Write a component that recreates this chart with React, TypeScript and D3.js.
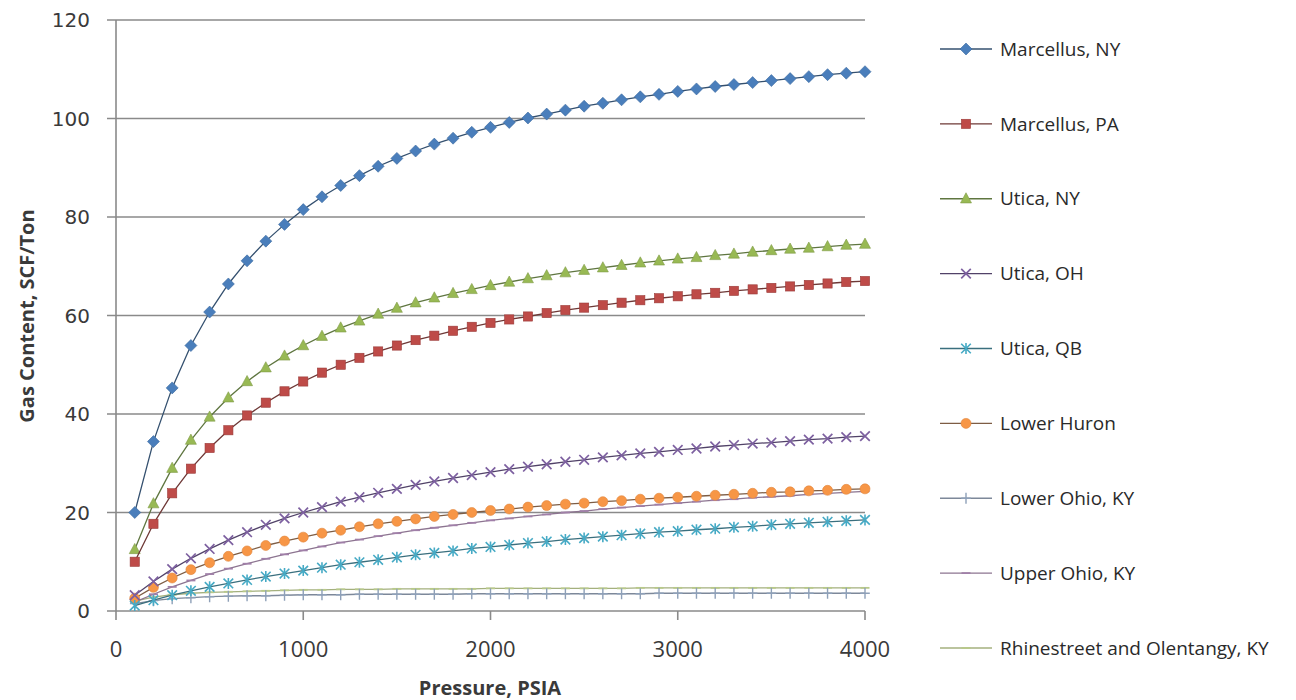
import React from "react";
import * as d3 from "d3";

const pressures = [100,200,300,400,500,600,700,800,900,1000,1100,1200,1300,1400,1500,1600,1700,1800,1900,2000,2100,2200,2300,2400,2500,2600,2700,2800,2900,3000,3100,3200,3300,3400,3500,3600,3700,3800,3900,4000];

const marcellusNY = [20.0,34.4,45.3,53.9,60.7,66.4,71.1,75.1,78.5,81.5,84.1,86.4,88.4,90.3,91.9,93.4,94.8,96.0,97.2,98.2,99.2,100.1,100.9,101.7,102.5,103.1,103.8,104.4,104.9,105.5,106.0,106.5,106.9,107.3,107.7,108.1,108.5,108.9,109.2,109.5];
const marcellusPA = [10.0,17.7,23.9,28.9,33.1,36.7,39.7,42.3,44.6,46.6,48.4,50.0,51.4,52.7,53.9,55.0,55.9,56.9,57.7,58.5,59.2,59.8,60.5,61.1,61.6,62.1,62.6,63.1,63.5,63.9,64.3,64.6,65.0,65.3,65.6,65.9,66.2,66.5,66.8,67.0];
const uticaNY = [12.5,21.8,29.0,34.7,39.4,43.3,46.6,49.4,51.8,53.9,55.8,57.5,58.9,60.3,61.5,62.6,63.6,64.5,65.3,66.1,66.8,67.5,68.1,68.7,69.2,69.7,70.2,70.7,71.1,71.5,71.8,72.2,72.5,72.9,73.2,73.5,73.7,74.0,74.3,74.5];
const uticaOH = [3.2,6.0,8.5,10.7,12.6,14.4,16.0,17.5,18.8,20.0,21.1,22.2,23.1,24.0,24.8,25.6,26.3,27.0,27.6,28.2,28.8,29.3,29.8,30.3,30.7,31.2,31.6,32.0,32.3,32.7,33.0,33.4,33.7,34.0,34.2,34.5,34.8,35.0,35.3,35.5];
const uticaQB = [1.1,2.2,3.2,4.1,4.9,5.6,6.3,7.0,7.6,8.2,8.8,9.4,9.9,10.4,10.9,11.4,11.8,12.2,12.7,13.0,13.4,13.8,14.1,14.5,14.8,15.1,15.4,15.7,16.0,16.2,16.5,16.7,17.0,17.2,17.5,17.7,17.9,18.1,18.3,18.5];
const lowerHuron = [2.6,4.8,6.7,8.4,9.8,11.1,12.2,13.3,14.2,15.0,15.8,16.4,17.1,17.7,18.2,18.7,19.2,19.6,20.0,20.4,20.7,21.1,21.4,21.7,21.9,22.2,22.4,22.7,22.9,23.1,23.3,23.5,23.7,23.9,24.1,24.2,24.4,24.5,24.7,24.8];
const lowerOhioKY = [1.5,2.1,2.5,2.7,2.9,3.0,3.1,3.1,3.2,3.3,3.3,3.3,3.4,3.4,3.4,3.4,3.4,3.4,3.5,3.5,3.5,3.5,3.5,3.5,3.5,3.5,3.5,3.5,3.6,3.6,3.6,3.6,3.6,3.6,3.6,3.6,3.6,3.6,3.6,3.6];
const upperOhioKY = [1.8,3.4,4.9,6.2,7.5,8.6,9.6,10.6,11.5,12.3,13.1,13.9,14.5,15.2,15.8,16.4,16.9,17.4,17.9,18.4,18.8,19.2,19.6,20.0,20.3,20.7,21.0,21.3,21.6,21.9,22.2,22.5,22.7,23.0,23.2,23.4,23.7,23.9,24.1,24.3];
const rhinestreetKY = [2.0,2.8,3.3,3.6,3.8,3.9,4.0,4.1,4.2,4.3,4.3,4.4,4.4,4.4,4.5,4.5,4.5,4.5,4.5,4.6,4.6,4.6,4.6,4.6,4.6,4.6,4.6,4.7,4.7,4.7,4.7,4.7,4.7,4.7,4.7,4.7,4.7,4.7,4.7,4.7];

const seriesNames = ["Marcellus, NY","Marcellus, PA","Utica, NY","Utica, OH","Utica, QB","Lower Huron","Lower Ohio, KY","Upper Ohio, KY","Rhinestreet and Olentangy, KY"];
const seriesValues = [marcellusNY, marcellusPA, uticaNY, uticaOH, uticaQB, lowerHuron, lowerOhioKY, upperOhioKY, rhinestreetKY];
const markerTypes = ["diamond","square","triangle","x","asterisk","circle","plus","dash","dash"];
const markerColors = ["#4a7ebb","#be4b48","#98b954","#7d60a0","#46aac5","#f79646","#8ea0b8","#a07fa8","#b8c98a"];
const lineColors = ["#34506f","#6e3836","#5f7640","#514268","#3a6f7e","#7e5d44","#7d8899","#8c7490","#a4b07e"];
const xTicks = [0,1000,2000,3000,4000];
const yTicks = [0,20,40,60,80,100,120];

function Marker({ type, x, y, color }: { type: string; x: number; y: number; color: string }) {
  switch (type) {
    case "diamond":
      return <path d={`M${x},${y-6}L${x+6},${y}L${x},${y+6}L${x-6},${y}Z`} fill={color} stroke="#3a6aa0" strokeWidth={0.6} />;
    case "square":
      return <rect x={x-4.6} y={y-4.6} width={9.2} height={9.2} fill={color} stroke="#9a3a38" strokeWidth={0.6} />;
    case "triangle":
      return <path d={`M${x},${y-6}L${x+5.5},${y+4.2}L${x-5.5},${y+4.2}Z`} fill={color} stroke="#7f9a46" strokeWidth={0.6} />;
    case "x":
      return <path d={`M${x-4.8},${y-4.8}L${x+4.8},${y+4.8}M${x-4.8},${y+4.8}L${x+4.8},${y-4.8}`} stroke={color} strokeWidth={1.7} />;
    case "asterisk":
      return <path d={`M${x-4.8},${y-4.8}L${x+4.8},${y+4.8}M${x-4.8},${y+4.8}L${x+4.8},${y-4.8}M${x},${y-5.5}L${x},${y+5.5}`} stroke={color} strokeWidth={1.6} />;
    case "circle":
      return <circle cx={x} cy={y} r={5} fill={color} stroke="#e0873e" strokeWidth={0.6} />;
    case "plus":
      return <path d={`M${x-4.8},${y}L${x+4.8},${y}M${x},${y-5.5}L${x},${y+5.5}`} stroke={color} strokeWidth={1.4} />;
    case "dash":
      return <path d={`M${x-4.5},${y}L${x+4.5},${y}`} stroke={color} strokeWidth={1.8} />;
    default:
      return null;
  }
}

export default function App() {
  const width = 1296, height = 700;
  const x = d3.scaleLinear().domain([0, 4000]).range([116, 865]);
  const y = d3.scaleLinear().domain([0, 120]).range([611, 20]);
  const line = d3.line<number>().x((_, i) => x(pressures[i])).y((v) => y(v));
  const legendY = d3.scaleLinear().domain([0, 8]).range([49, 648]);
  const axisColor = "#8a8a8a";

  return (
    <svg width={width} height={height} style={{ position: "absolute", left: 0, top: 0, background: "#fff" }}>
      {yTicks.map((t) => (
        <line key={"g" + t} x1={107} x2={865} y1={y(t)} y2={y(t)} stroke={axisColor} strokeWidth={1.6} />
      ))}
      <line x1={x(0)} x2={x(0)} y1={y(120)} y2={y(0)} stroke={axisColor} strokeWidth={1.6} />
      {xTicks.map((t) => (
        <line key={"xt" + t} x1={x(t)} x2={x(t)} y1={y(0)} y2={y(0) + 9} stroke={axisColor} strokeWidth={1.6} />
      ))}
      {yTicks.map((t) => (
        <text key={"yl" + t} x={90} y={y(t)} dy="0.35em" textAnchor="end" fontFamily="DejaVu Sans, Verdana, sans-serif" fontSize={20} fill="#3a3a3a">{t}</text>
      ))}
      {xTicks.map((t) => (
        <text key={"xl" + t} x={x(t)} y={649} dy="0.35em" textAnchor="middle" fontFamily="Open Sans, sans-serif" fontSize={22} fill="#3a3a3a">{t}</text>
      ))}
      <text x={490} y={688} dy="0.35em" textAnchor="middle" fontFamily="Open Sans, sans-serif" fontWeight="bold" fontSize={20} fill="#3a3a3a">Pressure, PSIA</text>
      <text transform={`translate(27,316) rotate(-90)`} dy="0.35em" textAnchor="middle" fontFamily="Open Sans, sans-serif" fontWeight="bold" fontSize={20} fill="#3a3a3a">Gas Content, SCF/Ton</text>

      {seriesValues.map((_, s) => s).reverse().map((s) => (
        <g key={"s" + s}>
          <path d={line(seriesValues[s]) || ""} fill="none" stroke={lineColors[s]} strokeWidth={1.3} />
          {seriesValues[s].map((v, i) => (
            <Marker key={i} type={markerTypes[s]} x={x(pressures[i])} y={y(v)} color={markerColors[s]} />
          ))}
        </g>
      ))}

      {seriesNames.map((name, s) => (
        <g key={"l" + s}>
          <line x1={940} x2={992} y1={legendY(s)} y2={legendY(s)} stroke={lineColors[s]} strokeWidth={1.3} />
          <Marker type={markerTypes[s]} x={966} y={legendY(s)} color={markerColors[s]} />
          <text x={1000} y={legendY(s)} dy="0.35em" fontFamily="Open Sans, sans-serif" fontSize={19} fill="#2a2a2a">{name}</text>
        </g>
      ))}
    </svg>
  );
}
